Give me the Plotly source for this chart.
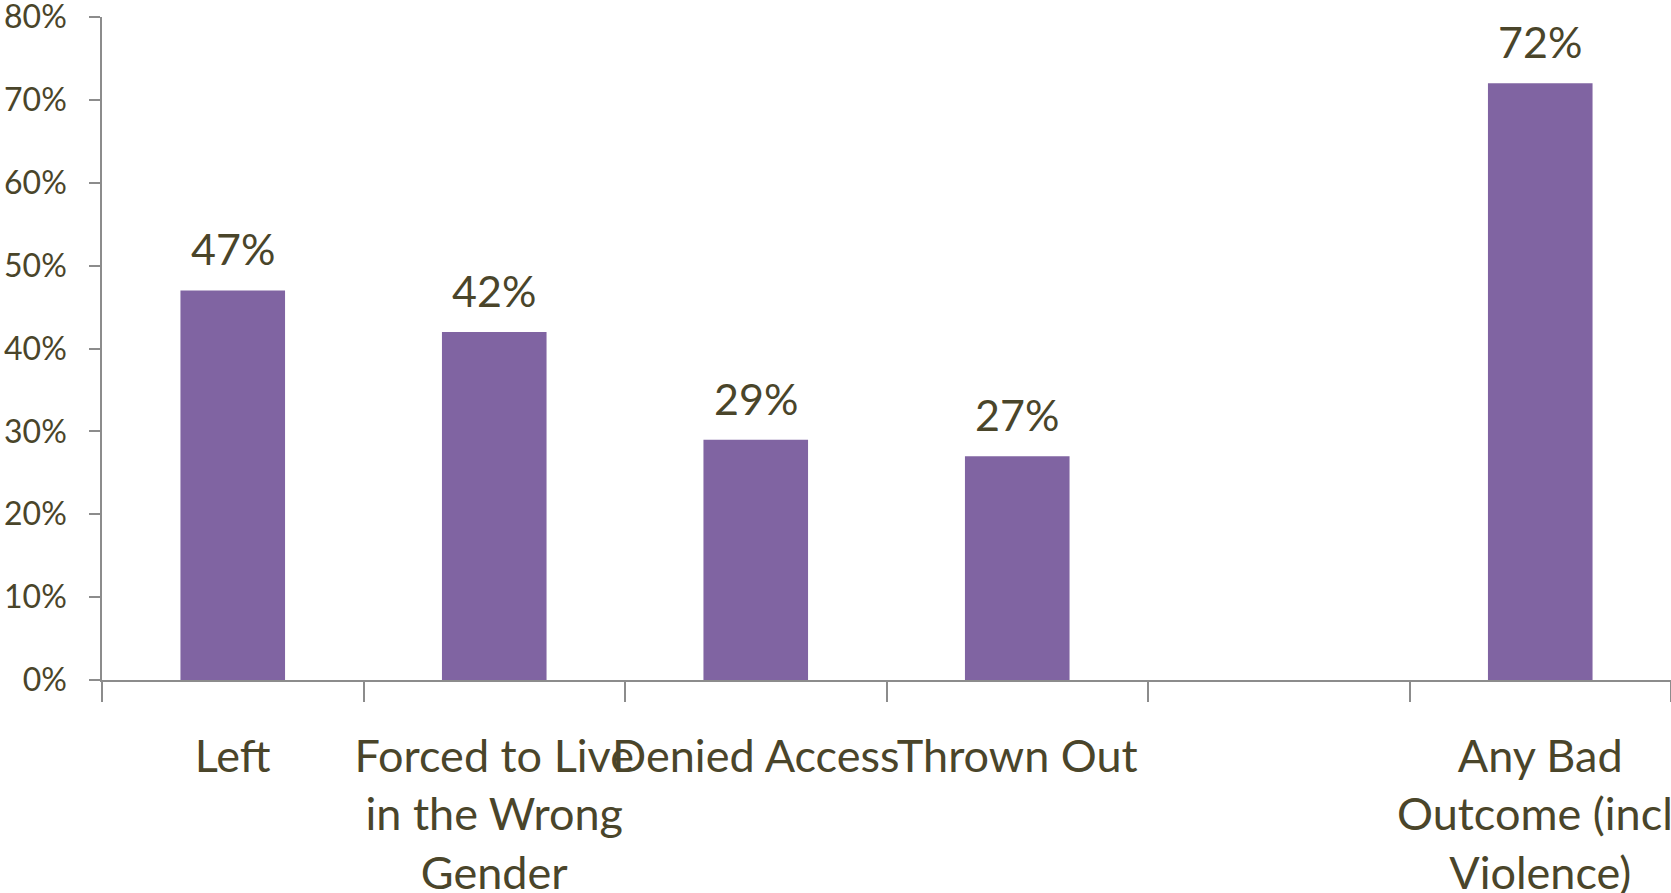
import plotly.graph_objects as go

categories = ["Left", "Forced to Live<br>in the Wrong<br>Gender", "Denied Access", "Thrown Out", " ", "Any Bad<br>Outcome (incl.<br>Violence)"]
values = [0.47, 0.42, 0.29, 0.27, None, 0.72]
value_labels = ["47%", "42%", "29%", "27%", "", "72%"]

TEXT = "#4A452A"
BAR = "#8064A2"
AXIS = "#8C8C8C"
FONT = "Lato"

fig = go.Figure()
fig.add_trace(go.Bar(x=categories, y=values, marker=dict(color=BAR, line=dict(width=0)),
                     hoverinfo="skip"))

for c, v, t in zip(categories, values, value_labels):
    if v is None:
        continue
    fig.add_annotation(x=c, y=v, text=t, showarrow=False, yanchor="bottom", yshift=14,
                       font=dict(family=FONT, size=43, color=TEXT))

fig.update_layout(
    width=1671, height=893,
    margin=dict(l=102, r=0, t=17, b=213, autoexpand=False),
    paper_bgcolor="white", plot_bgcolor="white",
    bargap=0.6, showlegend=False,
    font=dict(family=FONT, color=TEXT),
)
fig.update_yaxes(range=[0, 0.8], dtick=0.1, tickformat=".0%", showgrid=False, zeroline=False,
                 automargin=False, ticklabeloverflow="allow",
                 showline=True, linecolor=AXIS, linewidth=1.5,
                 ticks="outside", ticklen=11, tickcolor=AXIS, tickwidth=1.5,
                 ticklabelstandoff=16,
                 tickfont=dict(family=FONT, size=32, color=TEXT))
fig.update_xaxes(type="category", showgrid=False, showline=True, linecolor=AXIS, linewidth=1.5,
                 automargin=False, ticklabeloverflow="allow",
                 ticks="outside", tickson="boundaries", ticklen=20, tickcolor=AXIS, tickwidth=1.5,
                 ticklabelstandoff=36, tickangle=0,
                 tickfont=dict(family=FONT, size=45, color=TEXT))

fig.write_html("out.html", config={"displayModeBar": False},
               post_script="document.body.style.margin='0';document.body.style.overflow='hidden';")
